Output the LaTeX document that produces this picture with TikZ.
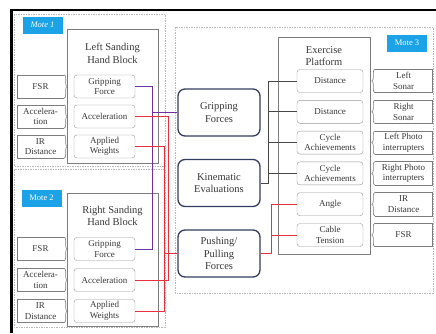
\documentclass[tikz,border=0pt]{standalone}
\usepackage{fontspec}
\setmainfont{Liberation Serif}
\usetikzlibrary{arrows.meta, calc, decorations.pathreplacing, positioning}
\definecolor{motecyan}{RGB}{28,162,230}
\definecolor{boxnavy}{RGB}{52,62,96}
\definecolor{wirepurple}{RGB}{112,48,160}
\definecolor{wirered}{RGB}{230,50,60}
\definecolor{wiregray}{RGB}{70,70,70}
\definecolor{edgegray}{RGB}{125,125,125}
\definecolor{inkgray}{RGB}{55,55,55}

\begin{document}
\begin{tikzpicture}[x=1pt, y=-1pt,
  every node/.style={align=center, inner sep=0.5pt, text=inkgray},
  region/.style={draw=gray!55, line width=0.6pt, dash pattern=on 1.5pt off 1pt},
  motetag/.style={fill=motecyan, text=white, minimum width=40pt, minimum height=17pt},
  block/.style={draw=edgegray, line width=0.8pt},
  blocktitle/.style={font=\fontsize{10.5}{12.5}\selectfont},
  inbox/.style={draw=edgegray!80, rounded corners=3pt, fill=white, minimum height=23pt, font=\fontsize{9}{10.5}\selectfont},
  sensor/.style={minimum height=23pt, font=\fontsize{9}{10.5}\selectfont},
  sensline/.style={draw=edgegray, line width=0.6pt},
  midbox/.style={draw=boxnavy, line width=1.3pt, rounded corners=7pt, fill=white, minimum width=82pt, minimum height=47pt, font=\fontsize{10.5}{12.5}\selectfont},
  wire/.style={line width=1pt}]
\useasboundingbox (0,0) rectangle (436,333);
\draw[line width=2.5pt] (11.5,333) -- (11.5,10) -- (436,10);

% mote regions
\draw[region] (14,14) rectangle (165,166);
\draw[region] (14,169) rectangle (165,327);
\draw[region] (175,27) rectangle (433,293);
\node (tag1) [motetag, font=\fontsize{8.5}{10}\selectfont\itshape] at (42.5,25) {Mote 1};
\node (tag2) [motetag, font=\fontsize{8.5}{10}\selectfont] at (41.5,198) {Mote 2};
\node (tag3) [motetag, font=\fontsize{8.5}{10}\selectfont] at (407,43) {Mote 3};

% blocks
\node (lblock) [block, minimum width=91pt, minimum height=134pt] at (112.5,96) {};
\node (ltitle) [blocktitle] at (112.5,53.5) {Left Sanding\\Hand Block};
\node (rblock) [block, minimum width=91pt, minimum height=133pt] at (112.5,259.5) {};
\node (rtitle) [blocktitle] at (112.5,216) {Right Sanding\\Hand Block};
\node (platform) [block, minimum width=92pt, minimum height=217pt] at (324,145.5) {};
\node (ptitle) [blocktitle] at (324,56) {Exercise\\Platform};

% left hand block
\begin{scope}[node distance=30pt]
\node (lgrip) [inbox, minimum width=61pt] at (104.5,86.5) {Gripping\\Force};
\node (lacc) [inbox, minimum width=61pt, below of=lgrip] {Acceleration};
\node (lwt) [inbox, minimum width=61pt, below of=lacc] {Applied\\Weights};
\end{scope}
\begin{scope}[node distance=31pt]
\node (rgrip) [inbox, minimum width=61pt] at (104.5,249) {Gripping\\Force};
\node (racc) [inbox, minimum width=61pt, below of=rgrip] {Acceleration};
\node (rwt) [inbox, minimum width=61pt, below of=racc] {Applied\\Weights};
\end{scope}
\begin{scope}[node distance=64pt]
\node (lfsr) [sensor, minimum width=47pt, left of=lgrip] {FSR};
\node (lacl) [sensor, minimum width=47pt, left of=lacc] {Accelera-\\tion};
\node (lird) [sensor, minimum width=47pt, left of=lwt] {IR\\Distance};
\node (rfsr) [sensor, minimum width=47pt, left of=rgrip] {FSR};
\node (racl) [sensor, minimum width=47pt, left of=racc] {Accelera-\\tion};
\node (rird) [sensor, minimum width=47pt, left of=rwt] {IR\\Distance};
\end{scope}

% evaluations
\begin{scope}[node distance=70.5pt]
\node (gripf) [midbox] at (219,112.5) {Gripping\\Forces};
\node (kinem) [midbox, below of=gripf] {Kinematic\\Evaluations};
\node (pushf) [midbox, below of=kinem] {Pushing/\\Pulling\\Forces};
\end{scope}

% exercise platform
\begin{scope}[node distance=30.8pt]
\node (dist1) [inbox, minimum width=66pt] at (330,81) {Distance};
\node (dist2) [inbox, minimum width=66pt, below of=dist1] {Distance};
\node (cyc1) [inbox, minimum width=66pt, below of=dist2] {Cycle\\Achievements};
\node (cyc2) [inbox, minimum width=66pt, below of=cyc1] {Cycle\\Achievements};
\node (angle) [inbox, minimum width=66pt, below of=cyc2] {Angle};
\node (tension) [inbox, minimum width=66pt, below of=angle] {Cable\\Tension};
\end{scope}
\begin{scope}[node distance=73.5pt]
\node (lsonar) [sensor, minimum width=57pt, right of=dist1] {Left\\Sonar};
\node (rsonar) [sensor, minimum width=57pt, right of=dist2] {Right\\Sonar};
\node (lphoto) [sensor, minimum width=57pt, right of=cyc1] {Left Photo\\interrupters};
\node (rphoto) [sensor, minimum width=57pt, right of=cyc2] {Right Photo\\interrupters};
\node (irdist) [sensor, minimum width=57pt, right of=angle] {IR\\Distance};
\node (pfsr) [sensor, minimum width=57pt, right of=tension] {FSR};
\end{scope}

% sensor outlines
\foreach \s in {lfsr, lacl, lird, rfsr, racl, rird} {
  \draw[sensline] (\s.north east) -- (\s.north west) -- (\s.south west) -- (\s.south east);
  \draw[sensline, decorate, decoration={brace, amplitude=3pt}] (\s.north east) -- (\s.south east);
}
\foreach \s in {lsonar, rsonar, lphoto, rphoto, irdist, pfsr} {
  \draw[sensline] (\s.north west) -- (\s.north east) -- (\s.south east) -- (\s.south west);
  \draw[sensline, decorate, decoration={brace, amplitude=3pt}] (\s.south west) -- (\s.north west);
}

% wires
\coordinate (pbus) at (152,0);
\coordinate (abus) at (168.5,0);
\coordinate (wbus) at (164,0);
\coordinate (kbus) at (268,0);
\coordinate (tbus) at (271,0);
\draw[wire, wirepurple] (lgrip.east) -| (pbus |- rgrip) -- (rgrip.east);
\draw[wire, wirepurple] (gripf.west) -- (gripf.west -| pbus);
\draw[wire, wirered] (lacc.east) -| (abus |- racc) -- (racc.east);
\draw[wire, wirered] (lwt.east) -| (wbus |- rwt) -- (rwt.east);
\draw[wire, wirered] (pushf.west) -- (pushf.west -| wbus);
\draw[wire, wiregray] (kinem.east) -| (kbus |- dist1) -- (dist1.west);
\foreach \b in {dist2, cyc1, cyc2} \draw[wire, wiregray] (\b.west) -- (\b.west -| kbus);
\draw[wire, wirered] (pushf.east) -| (tbus |- angle) -- (angle.west);
\draw[wire, wirered] (tension.west) -- (tension.west -| tbus);
\end{tikzpicture}
\end{document}
